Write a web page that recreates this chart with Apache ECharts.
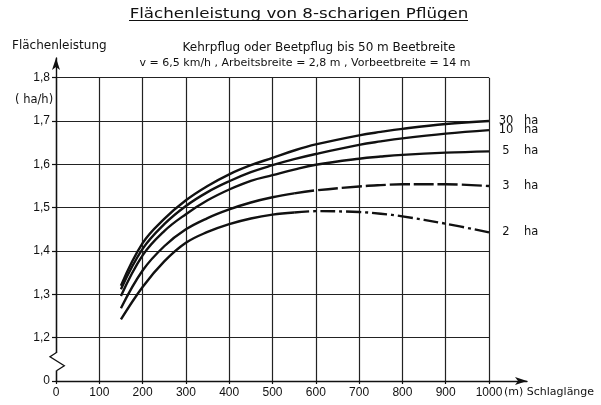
<!DOCTYPE html>
<html><head><meta charset="utf-8">
<script src="https://cdn.jsdelivr.net/npm/echarts@6/dist/echarts.min.js"></script>
<style>html,body{margin:0;padding:0;background:#fff}#c{width:601px;height:405px}</style>
</head><body><div id="c"></div>
<script>
// Schlaglänge (m)
const lengths = [150, 200, 250, 300, 350, 400, 450, 500, 550, 600, 700, 750, 800, 900, 1000];
// Flächenleistung (ha/h) per field size
const ha30 = [1.320, 1.418, 1.474, 1.517, 1.550, 1.577, 1.598, 1.615, 1.632, 1.646, 1.667, 1.675, 1.682, 1.693, 1.700];
const ha10 = [1.312, 1.405, 1.462, 1.504, 1.536, 1.561, 1.582, 1.598, 1.612, 1.624, 1.645, 1.653, 1.660, 1.671, 1.679];
const ha5  = [1.296, 1.390, 1.446, 1.485, 1.517, 1.542, 1.562, 1.575, 1.588, 1.599, 1.613, 1.618, 1.622, 1.627, 1.630];
const ha3  = [1.268, 1.355, 1.411, 1.450, 1.476, 1.496, 1.512, 1.524, 1.533, 1.540, 1.549, 1.552, 1.554, 1.554, 1.550];
const ha2  = [1.242, 1.317, 1.376, 1.419, 1.444, 1.462, 1.475, 1.484, 1.489, 1.492, 1.490, 1.486, 1.480, 1.463, 1.443];
const seriesNames = ['30', '10', '5', '3', '2'];
const yTickLabels = ['0', '1,2', '1,3', '1,4', '1,5', '1,6', '1,7', '1,8'];
const breakAt = 550; // solid -> dashed transition for 3 ha and 2 ha

// broken y axis: 0 at step 0, 1.2 .. 1.8 at steps 1..7
function toAxis(v) { return (v - 1.1) * 10; }
function pts(vals, from, to) {
  return lengths.slice(from, to).map((x, i) => [x, toAxis(vals[from + i])]);
}
const bi = lengths.indexOf(breakAt);
const FONT = 'DejaVu Sans';
const TFONT = 'Liberation Sans';
const INK = '#111';

function mk(name, vals, from, to, dash, label) {
  const s = {
    type: 'line', name: name, data: pts(vals, from, to),
    showSymbol: false, smooth: 0.4,
    lineStyle: { color: INK, width: 2.4, type: dash || 'solid', cap: 'butt' },
    xAxisIndex: 0, yAxisIndex: 0, silent: true
  };
  if (label) {
    s.endLabel = {
      show: true, distance: 10,
      formatter: '{n|' + name + '}{h|ha}',
      rich: {
        n: { width: 14, align: 'right', fontSize: 11.5, fontFamily: FONT, color: INK },
        h: { padding: [0, 0, 0, 11], fontSize: 11.5, fontFamily: FONT, color: INK }
      }
    };
  }
  return s;
}

const chart = echarts.init(document.getElementById('c'));
const gridLine = { show: true, lineStyle: { color: '#222', width: 1.2 } };
chart.setOption({
  animation: false,
  backgroundColor: '#fff',
  grid: [
    { left: 56, right: 112, top: 77.7, bottom: 24 },
    { left: 56, right: 74, top: 58, bottom: 24 }
  ],
  xAxis: [
    { type: 'value', gridIndex: 0, min: 0, max: 1000, interval: 100,
      axisLine: { show: false },
      axisTick: { show: true, length: 3, lineStyle: { color: INK, width: 1.2 } },
      axisLabel: { color: INK, fontSize: 12, fontFamily: TFONT, margin: 6, formatter: v => String(v) },
      splitLine: gridLine },
    { type: 'value', gridIndex: 1, min: 0, max: 1,
      axisLine: { show: true, symbol: ['none', 'arrow'], symbolSize: [6, 12], lineStyle: { color: INK, width: 1.4 } },
      axisTick: { show: false }, axisLabel: { show: false }, splitLine: { show: false } }
  ],
  yAxis: [
    { type: 'value', gridIndex: 0, min: 0, max: 7, interval: 1,
      axisLine: { show: false },
      axisTick: { show: true, length: 4, lineStyle: { color: INK, width: 1.2 } },
      axisLabel: { color: INK, fontSize: 12, fontFamily: TFONT, margin: 6,
        formatter: v => yTickLabels[v] },
      splitLine: gridLine },
    { type: 'value', gridIndex: 1, min: 0, max: 1,
      axisLine: { show: true, symbol: ['none', 'arrow'], symbolSize: [6, 12], lineStyle: { color: INK, width: 1.4 } },
      axisTick: { show: false }, axisLabel: { show: false }, splitLine: { show: false } }
  ],
  series: [
    mk(seriesNames[0], ha30, 0, lengths.length, null, true),
    mk(seriesNames[1], ha10, 0, lengths.length, null, true),
    mk(seriesNames[2], ha5, 0, lengths.length, null, true),
    mk(seriesNames[3], ha3, 0, bi + 1, null, false),
    mk(seriesNames[3], ha3, bi, lengths.length, [20, 4], true),
    mk(seriesNames[4], ha2, 0, bi + 1, null, false),
    mk(seriesNames[4], ha2, bi, lengths.length, [15, 4, 3, 4], true)
  ],
  graphic: [
    { type: 'text', x: 299, y: 14, scaleX: 1.15, z: 100, style: { text: 'Flächenleistung von 8-scharigen Pflügen', font: '14.5px ' + FONT, fill: INK, align: 'center', verticalAlign: 'middle' } },
    { type: 'line', z: 100, shape: { x1: 129, y1: 20.5, x2: 468, y2: 20.5 }, style: { stroke: INK, lineWidth: 1.2 } },
    { type: 'text', x: 319, y: 48, z: 100, style: { text: 'Kehrpflug oder Beetpflug bis 50 m Beetbreite', font: '12px ' + FONT, fill: INK, align: 'center', verticalAlign: 'middle' } },
    { type: 'text', x: 305, y: 63, z: 100, style: { text: 'v = 6,5 km/h , Arbeitsbreite = 2,8 m , Vorbeetbreite = 14 m', font: '11px ' + FONT, fill: INK, align: 'center', verticalAlign: 'middle' } },
    { type: 'text', x: 12, y: 46, z: 100, style: { text: 'Flächenleistung', font: '12px ' + FONT, fill: INK, align: 'left', verticalAlign: 'middle' } },
    { type: 'text', x: 15, y: 100, z: 100, style: { text: '( ha/h)', font: '11.5px ' + FONT, fill: INK, align: 'left', verticalAlign: 'middle' } },
    { type: 'text', x: 504, y: 392, z: 100, style: { text: '(m) Schlaglänge', font: '11px ' + FONT, fill: INK, align: 'left', verticalAlign: 'middle' } },
    { type: 'rect', z: 100, shape: { x: 52, y: 353, width: 9, height: 17.5 }, style: { fill: '#fff' } },
    { type: 'polyline', z: 101, shape: { points: [[56.5, 352.5], [50, 356.7], [64.3, 365.7], [56.5, 370.7]] }, style: { stroke: INK, lineWidth: 1.3, fill: null } }
  ]
});
</script></body></html>
